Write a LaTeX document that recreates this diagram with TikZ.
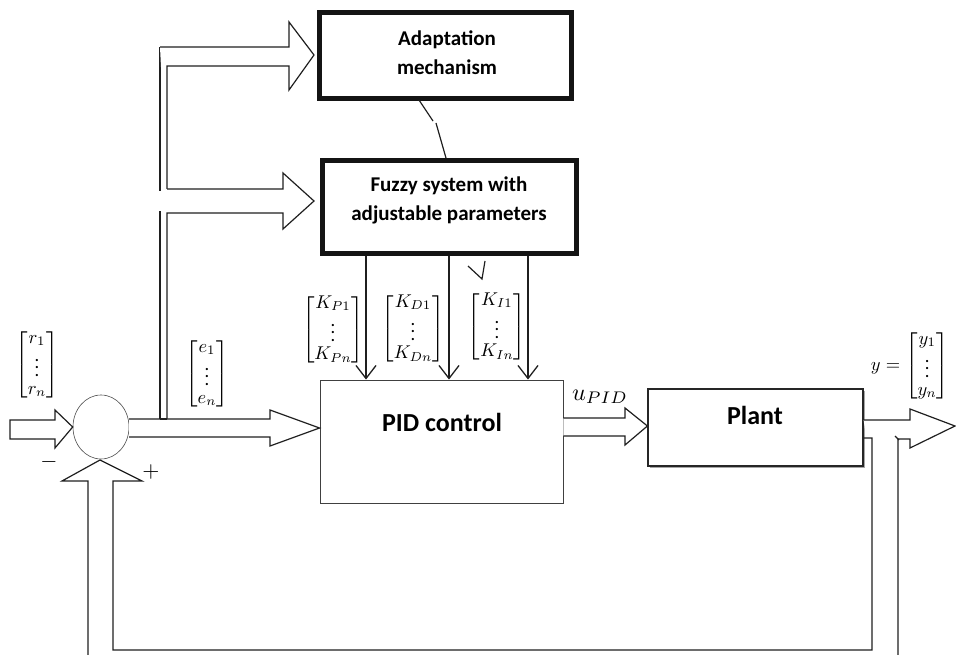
\documentclass[tikz,border=0pt]{standalone}
\usepackage{amsmath}
\usepackage{fontspec}
\setmainfont{Carlito}
\usetikzlibrary{arrows.meta,shapes.geometric}
\begin{document}
\begin{tikzpicture}[x=1pt,y=-1pt,
  ln/.style={line width=1.2pt, draw=black!88, line join=miter},
  hollow/.style={ln, fill=white},
  thin/.style={line width=1.3pt, draw=black!88, -{Straight Barb[length=13pt,width=20pt,line width=1.3pt]}},
  thickbox/.style={draw=black!92, line width=5pt, fill=white, inner sep=0pt},
  plainbox/.style={draw=black!75, line width=0.9pt, fill=white, inner sep=0pt},
  boxtext/.style={font=\fontsize{21}{29}\selectfont\bfseries, align=center, inner sep=0pt},
  bigtext/.style={font=\fontsize{26}{30}\selectfont\bfseries, inner sep=0pt},
  mlab/.style={font=\fontsize{10}{12}\selectfont, inner sep=0pt, scale=1.85},
  sgn/.style={font=\fontsize{10}{12}\selectfont, inner sep=0pt, scale=2.2}]
\useasboundingbox (0,0) rectangle (956,655);

% boxes
\node[thickbox, minimum width=252pt, minimum height=86pt] (adapt) at (445.5,55.5) {};
\node[boxtext] (adapttxt) at (447,53) {Adaptation\\mechanism};
\node[thickbox, minimum width=254pt, minimum height=93pt] (fuzzy) at (449.5,207.5) {};
\node[boxtext] (fuzzytxt) at (449,200) {Fuzzy system with\\adjustable parameters};
\node[plainbox, minimum width=243pt, minimum height=123pt] (pid) at (441.5,441.5) {};
\node[bigtext] (pidtxt) at (442,422) {PID control};
\fill[black!35] (650,391) rectangle (865,468);
\node[plainbox, draw=black!85, line width=1.2pt, minimum width=215pt, minimum height=77pt] (plant) at (755.5,427.5) {};
\node[bigtext] (planttxt) at (755,415) {Plant};

% summing junction
\node[draw=black!70, line width=0.6pt, ellipse, minimum width=56pt, minimum height=64pt, inner sep=0pt] (sum) at (101,427) {};

% input r arrow
\draw[hollow] (10,420) -- (55,420) -- (55,410) -- (sum.west) -- (55,448) -- (55,439) -- (10,439) -- cycle;

% error arrow to PID
\coordinate (eA) at (129,419);
\coordinate (eB) at (129,437);
\draw[hollow] (eA) -- (270,419) -- (270,410) -- (pid.west |- 0,428) -- (270,446) -- (270,437) -- (eB);

% branch up to adaptation and fuzzy
\draw[ln] (160,419) -- (160,47);
\draw[hollow] (160,47) -- (289,47) -- (289,22) -- (314,55) -- (289,90) -- (289,66) -- (167,66) -- (167,189);
\fill[white] (157,191) rectangle (170,211);
\draw[hollow] (167,189) -- (283,189) -- (283,173) -- (314,201) -- (283,229) -- (283,213) -- (167,213) -- (167,419);
\draw[ln] (160,419) -- (167,419);

% adaptation to fuzzy (broken line)
\coordinate (a1) at (419,100);
\coordinate (a2) at (433,121);
\coordinate (a3) at (436,123);
\coordinate (a4) at (446,158);
\draw[line width=1.2pt, black!88] (a1) -- (a2) (a3) -- (a4);

% gains arrows
\draw[thin] (fuzzy.south -| 366,0) -- (pid.north -| 366,0);
\draw[thin] (fuzzy.south -| 449,0) -- (pid.north -| 449,0);
\draw[thin] (fuzzy.south -| 528,0) -- (pid.north -| 528,0);
\draw[line width=1.2pt, black!88] (468,266) -- (482,279) -- (485,261);

% u_PID arrow
\draw[hollow] (pid.east |- 0,418) -- (625,418) -- (625,408) -- (plant.west |- 0,426) -- (625,445) -- (625,436) -- (pid.east |- 0,436);

% output arrow and feedback
\draw[hollow] (plant.east |- 0,420) -- (910,420) -- (910,409) -- (955,426) -- (910,448) -- (910,439) -- (898,439) -- (898,655);
\draw[ln] (895,436) -- (899,440);
\draw[ln] (plant.east |- 0,438) -- (872,438) -- (872,650) -- (113,650) -- (113,481) -- (142,481) -- (100,460) -- (62,481) -- (88,481) -- (88,655);

% signs
\node[sgn] (minus) at (49,462) {$-$};
\node[sgn] (plus) at (151,472) {$+$};

% math labels
\renewcommand{\arraystretch}{0.8}
\node[mlab] (rvec) at (37,365) {$\begin{bmatrix} r_1\\ \vdots\\ r_n\end{bmatrix}$};
\node[mlab] (evec) at (207,374) {$\begin{bmatrix} e_1\\ \vdots\\ e_n\end{bmatrix}$};
\node[mlab] (kp) at (333,330) {$\begin{bmatrix} K_{P1}\\ \vdots\\ K_{Pn}\end{bmatrix}$};
\node[mlab] (kd) at (413,329) {$\begin{bmatrix} K_{D1}\\ \vdots\\ K_{Dn}\end{bmatrix}$};
\node[mlab] (ki) at (497,327) {$\begin{bmatrix} K_{I1}\\ \vdots\\ K_{In}\end{bmatrix}$};
\node[mlab] (yvec) at (910,366) {$y=\begin{bmatrix} y_1\\ \vdots\\ y_n\end{bmatrix}$};
\node[mlab, scale=1.3] (ulab) at (600,397) {$u_{PID}$};
\end{tikzpicture}
\end{document}
